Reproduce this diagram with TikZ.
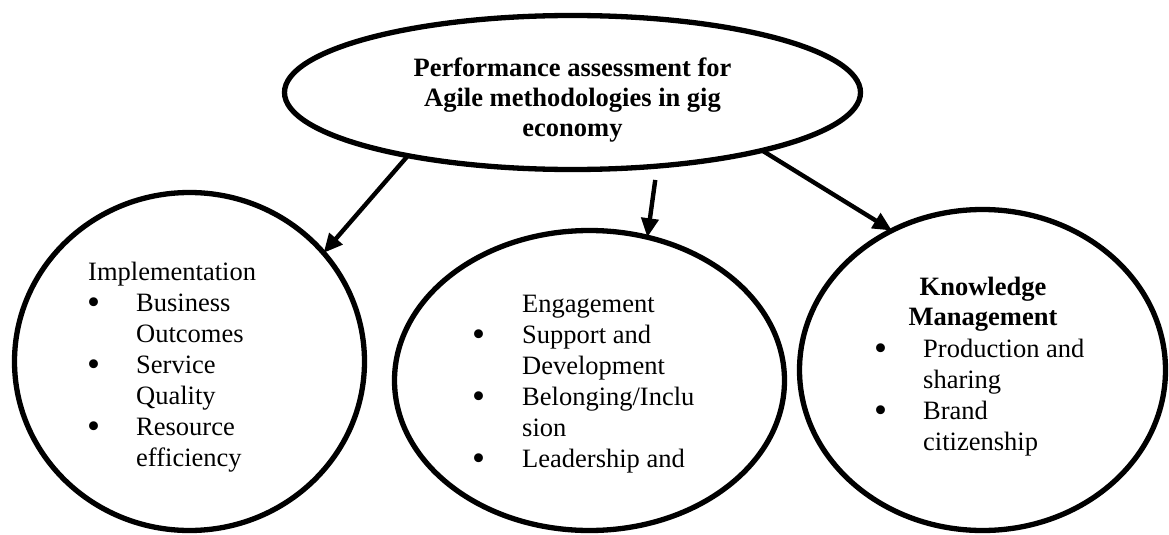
\documentclass[tikz,border=0pt]{standalone}
\usepackage{fontspec}
\setmainfont{Liberation Serif}
\usetikzlibrary{shapes.geometric,arrows.meta}
% list bullet, a little larger than the text bullet
\newcommand{\itemdot}{\raisebox{-3pt}{\scalebox{1.4}{\textbullet}}}
\begin{document}
\begin{tikzpicture}[x=1pt,y=-1pt,
  bubble/.style={draw, ellipse, line width=5.3pt, inner sep=0pt, outer sep=0pt},
  link/.style={line width=4.4pt, -{Triangle[length=19pt,width=17pt]}},
  txt/.style={inner sep=0pt, anchor=base west, font=\fontsize{26.5}{31}\selectfont},
  head/.style={inner sep=0pt, anchor=base, font=\fontsize{26.5}{30}\selectfont\bfseries}]
\useasboundingbox (0,0) rectangle (1169,535);

% the four bubbles
\node[bubble, minimum width=576pt, minimum height=154pt] (top)  at (572.5,92.5) {};
\node[bubble, minimum width=350pt, minimum height=338pt] (impl) at (189.5,361.5) {};
\node[bubble, minimum width=390pt, minimum height=300pt] (eng)  at (589.5,380.5) {};
\node[bubble, minimum width=366pt, minimum height=321pt] (know) at (982.5,370) {};

% central theme
\node[head] (title) at (572.5,76) {\begin{tabular}[t]{@{}c@{}}Performance assessment for\\ Agile methodologies in gig\\ economy\end{tabular}};

% implementation
\node[txt] (implText) at (87,280) {\begin{tabular}[t]{@{}p{49pt}@{}l@{}}
\multicolumn{2}{@{}l@{}}{\hspace{1pt}Implementation}\\
\itemdot & Business\\
 & Outcomes\\
\itemdot & Service\\
 & Quality\\
\itemdot & Resource\\
 & efficiency
\end{tabular}};

% engagement
\node[txt] (engText) at (472,312) {\begin{tabular}[t]{@{}p{50pt}@{}l@{}}
 & Engagement\\
\itemdot & Support and\\
 & Development\\
\itemdot & Belonging/Inclu\\
 & sion\\
\itemdot & Leadership and
\end{tabular}};

% knowledge management
\node[head] (kmHead) at (983,295) {\begin{tabular}[t]{@{}c@{}}Knowledge\\ Management\end{tabular}};
\node[txt] (kmText) at (874,357) {\begin{tabular}[t]{@{}p{49pt}@{}l@{}}
\itemdot & Production and\\
 & sharing\\
\itemdot & Brand\\
 & citizenship
\end{tabular}};

% connectors
\draw[link] (top.201.4) -- (impl.39.9);
\draw[link, shorten <=14pt] (top.319.5) -- (eng.68.2);
\draw[link] (top.343.5) -- (know.123.1);
\end{tikzpicture}
\end{document}
